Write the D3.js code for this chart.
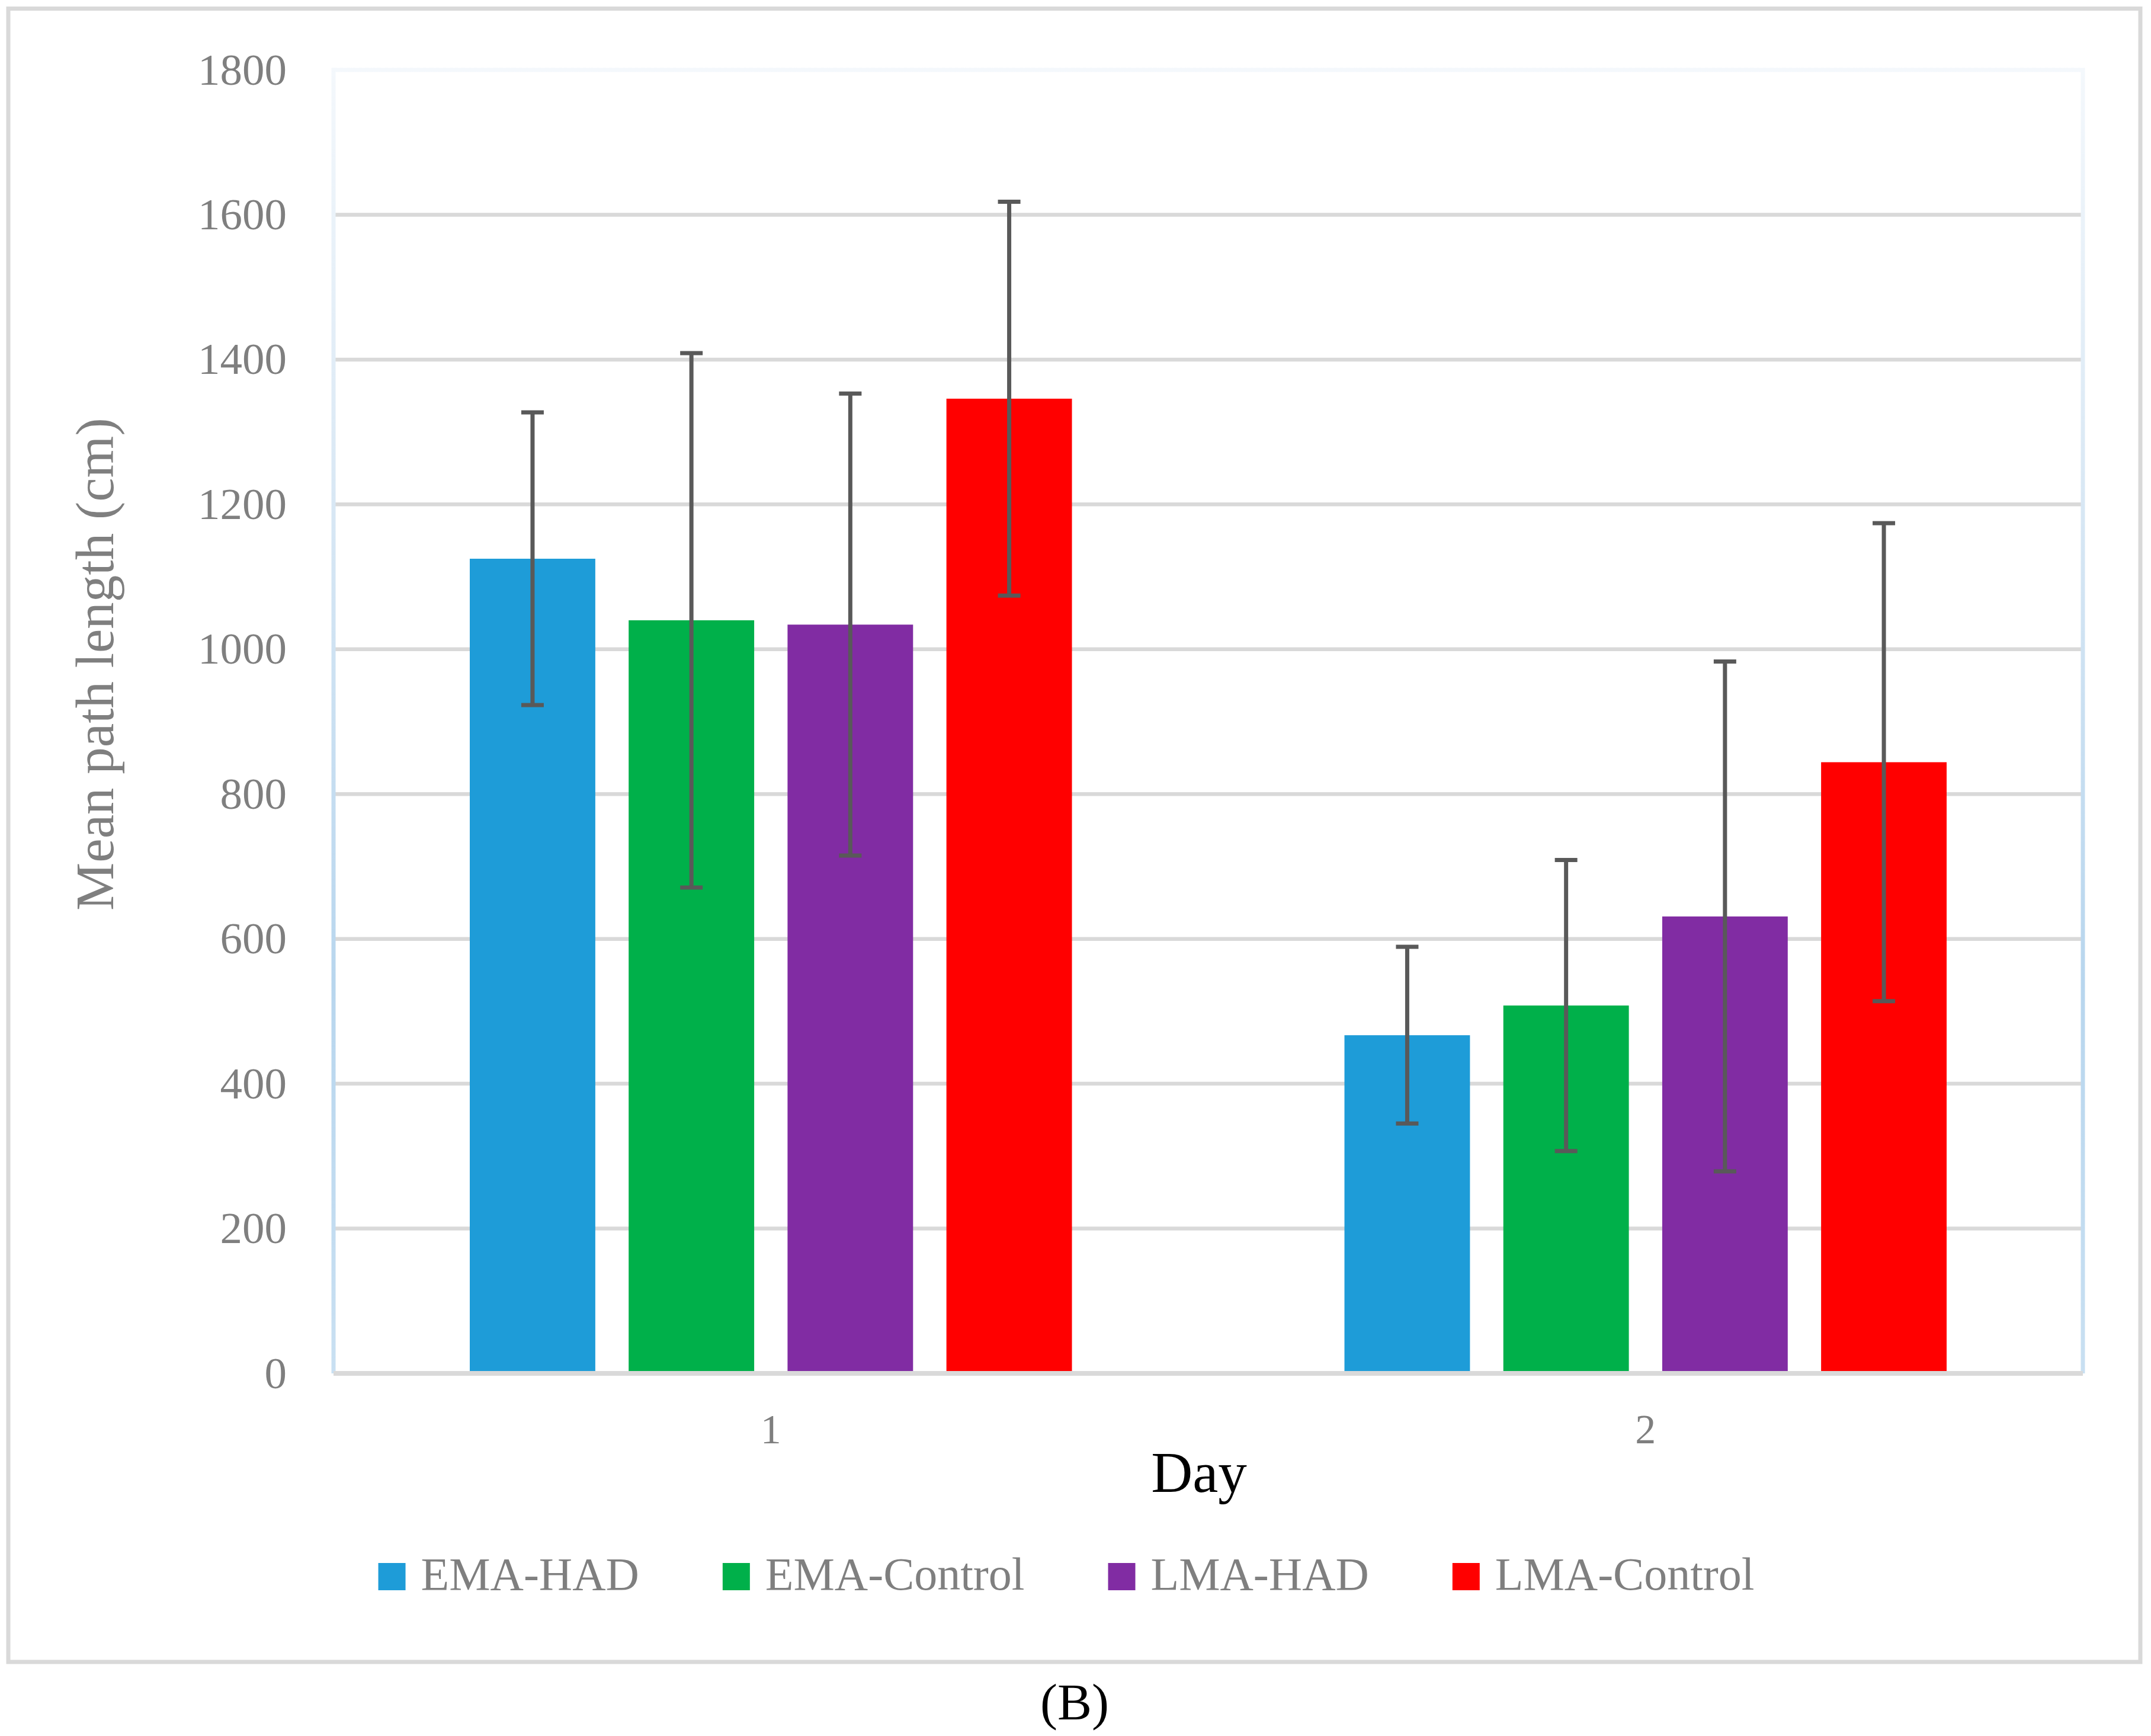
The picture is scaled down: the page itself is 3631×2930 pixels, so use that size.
<!DOCTYPE html>
<html>
<head>
<meta charset="utf-8">
<script src="https://cdn.jsdelivr.net/npm/d3@7"></script>
<style>
  body { margin: 0; background: #fff; }
  text { font-family: "Liberation Serif", "DejaVu Serif", serif; }
</style>
</head>
<body>
<script>
// categories and series
var days = ["1", "2"];
var seriesNames = ["EMA-HAD", "EMA-Control", "LMA-HAD", "LMA-Control"];
var seriesColors = ["#1e9cd8", "#00b04a", "#812ca3", "#ff0000"];

// mean path length per series, one entry per day
var emaHad = [1125, 467];
var emaControl = [1040, 508];
var lmaHad = [1034, 631];
var lmaControl = [1346, 844];

// error bar half-lengths per series, one entry per day
var emaHadErr = [202, 122];
var emaControlErr = [369, 201];
var lmaHadErr = [319, 352];
var lmaControlErr = [272, 330];

var yTicks = [0, 200, 400, 600, 800, 1000, 1200, 1400, 1600, 1800];

var width = 3631;
var height = 2930;
var plot = {left: 563, right: 3516, top: 118, bottom: 2318};

var means = [emaHad, emaControl, lmaHad, lmaControl];
var errs = [emaHadErr, emaControlErr, lmaHadErr, lmaControlErr];

var data = [];
days.forEach((day, i)=>{
    seriesNames.forEach((s, j)=>{
        data.push({day: day, series: s, value: means[j][i], err: errs[j][i], color: seriesColors[j]});
    });
});

var svg = d3.select("body")
    .append("svg")
    .attr("width", width)
    .attr("height", height);

svg.append("rect")
    .attr("width", width)
    .attr("height", height)
    .attr("fill", "#fff");

var defs = svg.append("defs");
var grad = defs.append("linearGradient")
    .attr("id", "plotBorder")
    .attr("gradientUnits", "userSpaceOnUse")
    .attr("x1", 0).attr("y1", plot.top)
    .attr("x2", 0).attr("y2", plot.bottom);
grad.append("stop").attr("offset", "0").attr("stop-color", "#f4f8fc");
grad.append("stop").attr("offset", "0.3").attr("stop-color", "#dbe9f5");
grad.append("stop").attr("offset", "0.7").attr("stop-color", "#b8d6ee");
grad.append("stop").attr("offset", "1").attr("stop-color", "#c9e0f2");

// outer chart border
svg.append("rect")
    .attr("x", 14)
    .attr("y", 14.5)
    .attr("width", 3599)
    .attr("height", 2790.5)
    .attr("fill", "none")
    .attr("stroke", "#d9d9d9")
    .attr("stroke-width", 7);

var x0 = d3.scaleBand()
    .domain(days)
    .range([plot.left, plot.right])
    .paddingInner(0)
    .paddingOuter(0);

var x1 = d3.scaleBand()
    .domain(seriesNames)
    .range([230, x0.bandwidth() - 230])
    .paddingInner(0.21)
    .paddingOuter(0);

var y = d3.scaleLinear()
    .domain([0, 1800])
    .range([plot.bottom, plot.top]);

// gridlines
svg.append("g")
    .selectAll("line")
    .data(yTicks.filter((d)=> d > 0 && d < 1800))
    .enter()
    .append("line")
    .attr("x1", plot.left)
    .attr("x2", plot.right)
    .attr("y1", (d)=> y(d))
    .attr("y2", (d)=> y(d))
    .attr("stroke", "#d9d9d9")
    .attr("stroke-width", 6.5);

// plot area border
svg.append("path")
    .attr("d", "M" + plot.left + "," + plot.bottom + "V" + plot.top + "H" + plot.right + "V" + plot.bottom)
    .attr("fill", "none")
    .attr("stroke", "url(#plotBorder)")
    .attr("stroke-width", 7);

// bars
svg.append("g")
    .selectAll("rect")
    .data(data)
    .enter()
    .append("rect")
    .attr("x", (d)=> x0(d.day) + x1(d.series))
    .attr("y", (d)=> y(d.value))
    .attr("width", x1.bandwidth())
    .attr("height", (d)=> y(0) - y(d.value))
    .attr("fill", (d)=> d.color);

// bottom axis line
svg.append("line")
    .attr("x1", plot.left)
    .attr("x2", plot.right)
    .attr("y1", y(0))
    .attr("y2", y(0))
    .attr("stroke", "#d9d9d9")
    .attr("stroke-width", 8);

// error bars
var eb = svg.append("g")
    .selectAll("g")
    .data(data)
    .enter()
    .append("g")
    .attr("stroke", "#595959")
    .attr("stroke-width", 7);
var cx = (d)=> x0(d.day) + x1(d.series) + x1.bandwidth() / 2;
eb.append("line")
    .attr("x1", cx).attr("x2", cx)
    .attr("y1", (d)=> y(d.value + d.err))
    .attr("y2", (d)=> y(d.value - d.err));
eb.append("line")
    .attr("x1", (d)=> cx(d) - 19).attr("x2", (d)=> cx(d) + 19)
    .attr("y1", (d)=> y(d.value + d.err))
    .attr("y2", (d)=> y(d.value + d.err));
eb.append("line")
    .attr("x1", (d)=> cx(d) - 19).attr("x2", (d)=> cx(d) + 19)
    .attr("y1", (d)=> y(d.value - d.err))
    .attr("y2", (d)=> y(d.value - d.err));

// y axis labels
var leftAxis = d3.axisLeft(y)
    .tickValues(yTicks)
    .tickFormat(d3.format("d"))
    .tickSize(0)
    .tickPadding(79);
var ly = svg.append("g")
    .attr("transform", "translate(" + plot.left + ",0)")
    .call(leftAxis);
ly.select(".domain").remove();
ly.selectAll("text")
    .attr("font-family", "Liberation Serif")
    .attr("font-size", 75)
    .attr("fill", "#7f7f7f")
    .attr("dy", "0.32em");

// x axis labels
var bottomAxis = d3.axisBottom(x0)
    .tickSize(0)
    .tickPadding(0);
var lx = svg.append("g")
    .attr("transform", "translate(0," + plot.bottom + ")")
    .call(bottomAxis);
lx.select(".domain").remove();
lx.selectAll("text")
    .attr("font-family", "Liberation Serif")
    .attr("font-size", 70)
    .attr("fill", "#7f7f7f")
    .attr("dy", null)
    .attr("y", 118);

// axis titles
svg.append("text")
    .attr("transform", "translate(191,1121) rotate(-90)")
    .attr("text-anchor", "middle")
    .attr("font-size", 91)
    .attr("fill", "#7f7f7f")
    .text("Mean path length (cm)");

svg.append("text")
    .attr("x", 2024)
    .attr("y", 2518)
    .attr("text-anchor", "middle")
    .attr("font-size", 97)
    .attr("fill", "#000")
    .text("Day");

// legend
var legend = svg.append("g");
var items = legend.selectAll("g")
    .data(seriesNames)
    .enter()
    .append("g");
items.append("rect")
    .attr("y", 2638)
    .attr("width", 46)
    .attr("height", 46)
    .attr("fill", (d, i)=> seriesColors[i]);
items.append("text")
    .attr("x", 72)
    .attr("y", 2683)
    .attr("font-size", 78)
    .attr("fill", "#7f7f7f")
    .text((d)=> d);
var pos = 0;
var offsets = [];
items.each(function(){
    offsets.push(pos);
    pos += 72 + this.querySelector("text").getComputedTextLength() + 141;
});
var total = pos - 141;
var start = 1800 - total / 2;
items.attr("transform", (d, i)=> "translate(" + (start + offsets[i]) + ",0)");

// panel caption
svg.append("text")
    .attr("x", 1814)
    .attr("y", 2902)
    .attr("text-anchor", "middle")
    .attr("font-size", 87)
    .attr("fill", "#000")
    .text("(B)");
</script>
</body>
</html>
